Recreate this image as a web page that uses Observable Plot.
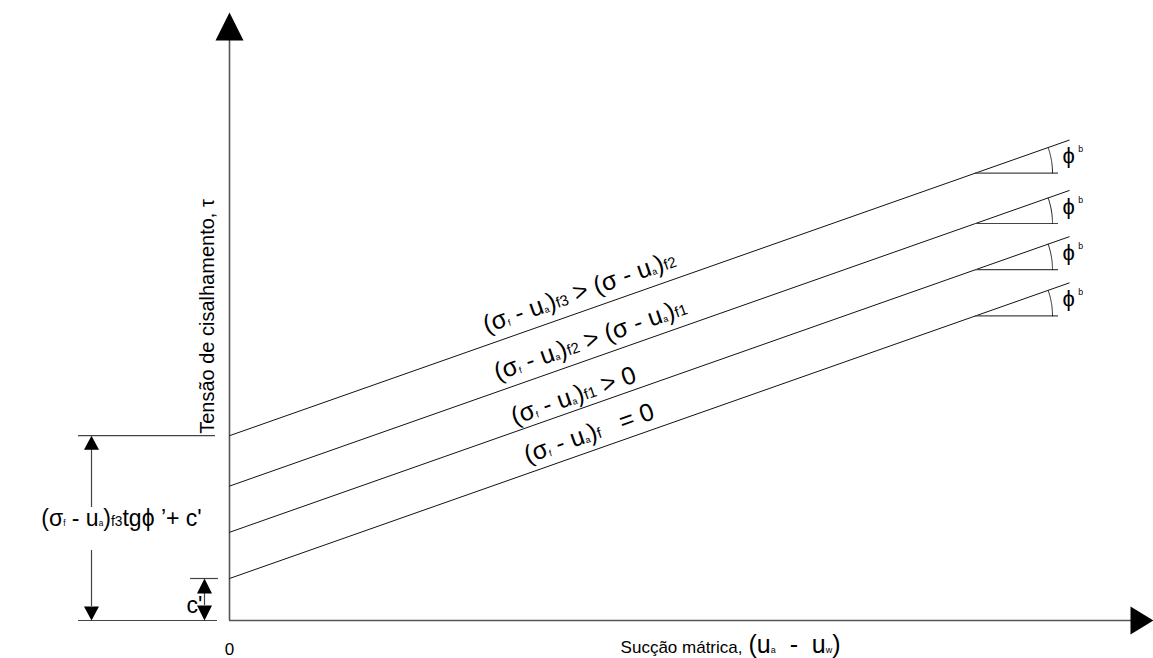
<!DOCTYPE html>
<html>
<head>
<meta charset="utf-8">
<script src="https://cdn.jsdelivr.net/npm/d3@7"></script>
<script src="https://cdn.jsdelivr.net/npm/@observablehq/plot@0.6"></script>
<style>
  body { margin: 0; background: #fff; }
  #chart svg { display: block; }
</style>
</head>
<body>
<div id="chart"></div>
<script>
// Shear strength envelopes versus matric suction, one per net normal stress level.
// Markup in labels: _{x} tiny subscript, ~{x} reduced size on the baseline, ^{x} raised superscript.
const stressLevels = ["f", "f1", "f2", "f3"];
const intercepts = [5, 10.5, 16, 22];          // τ at zero suction: c' + (σf - ua) tgφ'
const cohesion = 5;                             // c'
const tanPhiB = 0.352;                          // slope of every envelope, tg φb
const suctionEnd = 100;                         // last suction value drawn
const envelopeLabels = [
  "(σ_{f} - u_{a})~{f}   = 0",
  "(σ_{f} - u_{a})~{f1} > 0",
  "(σ_{f} - u_{a})~{f2} > (σ - u_{a})~{f1}",
  "(σ_{f} - u_{a})~{f3} > (σ - u_{a})~{f2}"
];
const phiBLabel = "ϕ^{b}";
const xTicks = [0];
const yTitle = "Tensão de cisalhamento, τ";
const xTitleWords = "Sucção mátrica,";
const xTitleSymbol = "(u_{a}  -  u_{w})";
const heightLabel = "(σ_{f} - u_{a})~{f3}tgϕ ’+ c'";
const cohesionLabel = "c'";

// ---- layout ----
const W = 1153, H = 658;
const mLeft = 229, mBottom = 38;
const xMax = 110;
const ppu = (W - mLeft) / xMax;          // pixels per unit (same on both axes)
const yMax = (H - mBottom) / ppu;
const u = (px) => px / ppu;              // pixel length -> data units
const tilt = -Math.atan(tanPhiB) * 180 / Math.PI;

const envelopes = intercepts.map((c, i) => ({
  level: stressLevels[i], c, label: envelopeLabels[i],
  end: c + tanPhiB * suctionEnd
}));

// label placement along each envelope (start of text, lift above the line)
const labelStart = [u(527 - mLeft), u(514 - mLeft), u(497 - mLeft), u(486 - mLeft)];
const labelLift = [u(10), u(7), u(11), u(12)];

// φb angle marks near the end of each envelope
const angleFrom = suctionEnd - u(94);
const angleTo = u(1058 - mLeft);
const arcR = u(77);
const theta = Math.atan(tanPhiB);
const arcs = envelopes.flatMap((e) => {
  const y0 = e.c + tanPhiB * angleFrom;
  return d3.range(0, 1.0001, 0.04).map((t) => ({
    level: e.level,
    x: angleFrom + arcR * Math.cos(t * theta),
    y: y0 + arcR * Math.sin(t * theta)
  }));
});
const angleBases = envelopes.map((e) => ({level: e.level, y: e.c + tanPhiB * angleFrom}));

// filled arrowheads, tip at the anchor point
function arrowHead(dir, aspect = 1) {
  return {
    draw(ctx, size) {
      const L = Math.sqrt(size / Math.PI), h = (L * aspect) / 2;
      const p = dir === "up" ? [[0, 0], [h, L], [-h, L]]
        : dir === "down" ? [[0, 0], [h, -L], [-h, -L]]
        : [[0, 0], [-L, h], [-L, -h]];
      ctx.moveTo(p[0][0], p[0][1]);
      ctx.lineTo(p[1][0], p[1][1]);
      ctx.lineTo(p[2][0], p[2][1]);
      ctx.closePath();
    }
  };
}

const yArrowTip = u(620 - 12), yArrowLen = 28;
const xArrowLen = 23;
const dimX = u(91 - mLeft);            // dimension line for the top intercept
const dimHead = 14;
const cX = u(204 - mLeft);             // dimension line for c'
const cHead = 15;
const topC = intercepts[intercepts.length - 1];

const axisColor = "#555";
const guideColor = "#444";

const chart = Plot.plot({
  width: W,
  height: H,
  marginLeft: mLeft,
  marginRight: 0,
  marginTop: 0,
  marginBottom: mBottom,
  x: {domain: [0, xMax], axis: null},
  y: {domain: [0, yMax], axis: null},
  style: {fontFamily: "'Liberation Sans', Arial, sans-serif", background: "#fff", color: "#000", overflow: "visible"},
  marks: [
    // axes
    Plot.ruleX([0], {y1: 0, y2: yArrowTip - u(yArrowLen) + u(1), stroke: axisColor, strokeWidth: 1.6}),
    Plot.ruleY([0], {x1: 0, x2: xMax - u(xArrowLen) + u(1), stroke: axisColor, strokeWidth: 1.6}),
    Plot.dot([0], {x: 0, y: yArrowTip, r: yArrowLen, symbol: arrowHead("up", 1), fill: "#000", stroke: "none"}),
    Plot.dot([0], {x: xMax, y: 0, r: xArrowLen, symbol: arrowHead("right", 28 / 23), fill: "#000", stroke: "none"}),
    Plot.text(xTicks, {x: (d) => d, y: u(620 - 654), text: (d) => String(d), textAnchor: "middle", lineAnchor: "bottom", fontSize: 17}),

    // envelopes
    Plot.link(envelopes, {x1: 0, y1: "c", x2: suctionEnd, y2: "end", stroke: "#111", strokeWidth: 1}),
    Plot.text(envelopes, {
      x: (d, i) => labelStart[i],
      y: (d, i) => d.c + tanPhiB * labelStart[i] + labelLift[i],
      text: "label", rotate: tilt, textAnchor: "start", lineAnchor: "bottom", fontSize: 25
    }),

    // φb angle marks
    Plot.ruleY(angleBases, {y: "y", x1: angleFrom, x2: angleTo, stroke: guideColor, strokeWidth: 1.2}),
    Plot.line(arcs, {x: "x", y: "y", z: "level", stroke: "#222", strokeWidth: 1}),
    Plot.text(angleBases, {x: u(1062 - mLeft), y: (d) => d.y + u(10), text: () => phiBLabel, textAnchor: "start", lineAnchor: "bottom", fontSize: 22}),

    // intercept dimension on the left
    Plot.ruleY([topC], {x1: u(78 - mLeft), x2: u(215 - mLeft), stroke: guideColor, strokeWidth: 1.2}),
    Plot.ruleY([0], {x1: u(78 - mLeft), x2: u(217 - mLeft), stroke: guideColor, strokeWidth: 1.2}),
    Plot.ruleX([dimX], {y1: topC - u(dimHead), y2: u(620 - 507), stroke: guideColor, strokeWidth: 1.2}),
    Plot.ruleX([dimX], {y1: u(620 - 550), y2: u(dimHead), stroke: guideColor, strokeWidth: 1.2}),
    Plot.dot([topC], {x: dimX, y: (d) => d, r: dimHead, symbol: arrowHead("up", 15 / 14), fill: "#000", stroke: "none"}),
    Plot.dot([0], {x: dimX, y: 0, r: dimHead, symbol: arrowHead("down", 15 / 14), fill: "#000", stroke: "none"}),
    Plot.text([heightLabel], {x: u(121 - mLeft), y: u(620 - 525), text: (d) => d, textAnchor: "middle", lineAnchor: "bottom", fontSize: 23}),

    // c' dimension
    Plot.ruleY([cohesion], {x1: u(190 - mLeft), x2: u(218 - mLeft), stroke: guideColor, strokeWidth: 1.2}),
    Plot.ruleX([cX], {y1: cohesion - u(cHead), y2: u(cHead), stroke: guideColor, strokeWidth: 1.2}),
    Plot.dot([cohesion], {x: cX, y: (d) => d, r: cHead, symbol: arrowHead("up", 1), fill: "#000", stroke: "none"}),
    Plot.dot([0], {x: cX, y: 0, r: cHead, symbol: arrowHead("down", 1), fill: "#000", stroke: "none"}),
    Plot.text([cohesionLabel], {x: u(202 - mLeft), y: u(620 - 612), text: (d) => d, textAnchor: "end", lineAnchor: "bottom", fontSize: 23}),

    // axis titles
    Plot.text([yTitle], {x: u(213 - mLeft), y: u(620 - 316), text: (d) => d, rotate: -90, textAnchor: "middle", lineAnchor: "bottom", fontSize: 20}),
    Plot.text([xTitleWords], {x: u(742 - mLeft), y: u(620 - 652), text: (d) => d, textAnchor: "end", lineAnchor: "bottom", fontSize: 17}),
    Plot.text([xTitleSymbol], {x: u(748 - mLeft), y: u(620 - 652), text: (d) => d, textAnchor: "start", lineAnchor: "bottom", fontSize: 25})
  ]
});

document.getElementById("chart").appendChild(chart);

// turn the label markup into tspans with reduced / shifted pieces
(function richText(root) {
  const pattern = /([_~^])\{([^}]*)\}/g;
  d3.select(root).selectAll("text").each(function () {
    const src = this.textContent;
    this.setAttribute("style", "white-space: pre");
    this.setAttributeNS("http://www.w3.org/XML/1998/namespace", "xml:space", "preserve");
    if (!/[_~^]\{/.test(src)) return;
    const host = this.closest("[font-size]");
    const base = parseFloat(host ? host.getAttribute("font-size") : 16);
    const segs = [];
    let last = 0, m;
    pattern.lastIndex = 0;
    while ((m = pattern.exec(src))) {
      if (m.index > last) segs.push({kind: "", text: src.slice(last, m.index)});
      segs.push({kind: m[1], text: m[2]});
      last = pattern.lastIndex;
    }
    if (last < src.length) segs.push({kind: "", text: src.slice(last)});
    this.textContent = "";
    let shift = 0;
    for (const s of segs) {
      const ts = d3.select(this).append("tspan").text(s.text);
      const size = s.kind === "_" ? 0.36 : s.kind === "~" ? 0.6 : s.kind === "^" ? 0.4 : 1;
      const lift = s.kind === "^" ? -0.5 : s.kind === "_" ? 0.03 : 0;
      if (size !== 1) ts.attr("font-size", base * size);
      if (s.kind === "^") ts.attr("dx", base * 0.15);
      const dy = (lift - shift) * base;
      if (dy) ts.attr("dy", dy);
      shift = lift;
    }
  });
})(chart);
</script>
</body>
</html>
